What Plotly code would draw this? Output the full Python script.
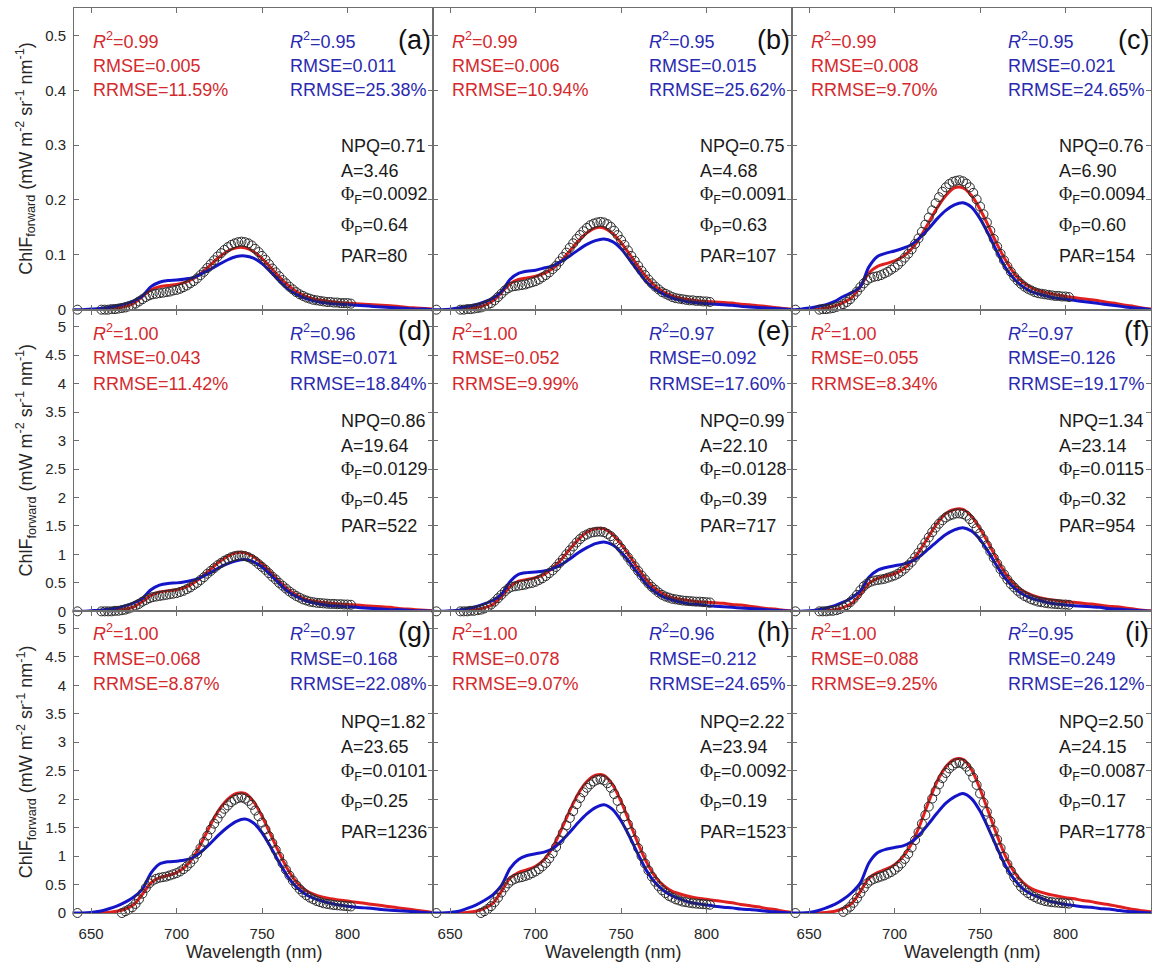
import plotly.graph_objects as go
from plotly.subplots import make_subplots

# ---------------------------------------------------------------- data
panel_labels = ["(a)", "(b)", "(c)", "(d)", "(e)", "(f)", "(g)", "(h)", "(i)"]

# measured spectra (circles): one edge sample at 642 nm, then 656-802 nm every 2 nm
meas_wl = [642] + list(range(656, 803, 2))
# fitted spectra: red model 650-850 nm, blue model 640-850 nm, every 5 nm
red_wl = list(range(650, 851, 5))
blue_wl = list(range(640, 851, 5))

meas_a = [0.0,
    0.000, 0.000, 0.000, 0.001, 0.001, 0.002, 0.003, 0.004, 0.006, 0.008, 0.011, 0.015, 0.019, 0.023, 0.026, 0.028, 0.029,
    0.030, 0.031, 0.032, 0.033, 0.035, 0.036, 0.038, 0.041, 0.044, 0.048, 0.052, 0.057, 0.063, 0.069, 0.076, 0.083, 0.090,
    0.097, 0.103, 0.109, 0.114, 0.118, 0.121, 0.123, 0.124, 0.123, 0.121, 0.117, 0.111, 0.105, 0.098, 0.091, 0.083, 0.075,
    0.068, 0.061, 0.054, 0.048, 0.042, 0.037, 0.032, 0.028, 0.025, 0.022, 0.020, 0.018, 0.017, 0.016, 0.015, 0.014, 0.014,
    0.013, 0.013, 0.012, 0.012, 0.012, 0.011]
meas_b = [0.0,
    0.000, 0.000, 0.001, 0.001, 0.002, 0.003, 0.004, 0.006, 0.009, 0.012, 0.017, 0.023, 0.029, 0.035, 0.039, 0.042, 0.043,
    0.044, 0.045, 0.046, 0.048, 0.050, 0.052, 0.055, 0.059, 0.063, 0.068, 0.074, 0.080, 0.088, 0.096, 0.104, 0.113, 0.121,
    0.129, 0.136, 0.143, 0.149, 0.154, 0.157, 0.159, 0.160, 0.159, 0.156, 0.151, 0.144, 0.136, 0.127, 0.118, 0.108, 0.098,
    0.089, 0.080, 0.071, 0.063, 0.055, 0.048, 0.042, 0.037, 0.032, 0.029, 0.026, 0.023, 0.021, 0.020, 0.019, 0.018, 0.017,
    0.017, 0.016, 0.016, 0.015, 0.015, 0.014]
meas_c = [0.0,
    0.000, 0.001, 0.001, 0.002, 0.003, 0.005, 0.007, 0.010, 0.014, 0.019, 0.026, 0.033, 0.041, 0.048, 0.054, 0.058, 0.060,
    0.061, 0.063, 0.066, 0.069, 0.073, 0.077, 0.082, 0.088, 0.095, 0.102, 0.110, 0.120, 0.130, 0.142, 0.155, 0.168, 0.181,
    0.194, 0.205, 0.215, 0.223, 0.229, 0.233, 0.235, 0.236, 0.234, 0.230, 0.223, 0.213, 0.201, 0.188, 0.174, 0.159, 0.144,
    0.129, 0.115, 0.102, 0.090, 0.079, 0.069, 0.060, 0.053, 0.047, 0.042, 0.038, 0.035, 0.032, 0.030, 0.029, 0.028, 0.027,
    0.026, 0.025, 0.025, 0.024, 0.024, 0.023]
meas_d = [0.0,
    0.00, 0.00, 0.00, 0.00, 0.01, 0.01, 0.02, 0.03, 0.05, 0.07, 0.10, 0.13, 0.17, 0.20, 0.23, 0.25, 0.26,
    0.27, 0.28, 0.29, 0.30, 0.31, 0.32, 0.34, 0.36, 0.39, 0.42, 0.46, 0.50, 0.55, 0.60, 0.66, 0.71, 0.76,
    0.81, 0.85, 0.89, 0.92, 0.95, 0.97, 0.98, 0.98, 0.97, 0.95, 0.92, 0.88, 0.83, 0.78, 0.73, 0.67, 0.61,
    0.56, 0.50, 0.45, 0.40, 0.35, 0.31, 0.27, 0.24, 0.21, 0.19, 0.17, 0.16, 0.15, 0.145, 0.14, 0.135, 0.13,
    0.13, 0.125, 0.125, 0.12, 0.12, 0.115]
meas_e = [0.0,
    0.00, 0.00, 0.00, 0.01, 0.01, 0.02, 0.03, 0.05, 0.08, 0.12, 0.17, 0.23, 0.29, 0.35, 0.40, 0.43, 0.44,
    0.45, 0.46, 0.47, 0.49, 0.50, 0.52, 0.55, 0.58, 0.62, 0.67, 0.72, 0.78, 0.85, 0.92, 1.00, 1.07, 1.14,
    1.21, 1.27, 1.32, 1.35, 1.38, 1.39, 1.40, 1.40, 1.39, 1.36, 1.32, 1.26, 1.19, 1.11, 1.03, 0.95, 0.87,
    0.79, 0.71, 0.63, 0.56, 0.49, 0.43, 0.38, 0.33, 0.29, 0.26, 0.24, 0.22, 0.21, 0.20, 0.19, 0.185, 0.18,
    0.175, 0.17, 0.17, 0.165, 0.16, 0.155]
meas_f = [0.0,
    0.00, 0.00, 0.00, 0.01, 0.01, 0.02, 0.04, 0.07, 0.11, 0.16, 0.22, 0.29, 0.37, 0.44, 0.49, 0.52, 0.54,
    0.55, 0.56, 0.57, 0.59, 0.61, 0.63, 0.66, 0.70, 0.75, 0.81, 0.87, 0.95, 1.03, 1.12, 1.21, 1.30, 1.39,
    1.47, 1.54, 1.60, 1.65, 1.68, 1.70, 1.72, 1.72, 1.71, 1.68, 1.62, 1.55, 1.46, 1.37, 1.27, 1.16, 1.05,
    0.94, 0.84, 0.74, 0.65, 0.56, 0.48, 0.42, 0.36, 0.31, 0.27, 0.24, 0.21, 0.19, 0.17, 0.16, 0.15, 0.14,
    0.135, 0.13, 0.125, 0.12, 0.12, 0.115]
meas_g = [0.0,
    -0.02, -0.03, -0.03, -0.03, -0.02, -0.01, 0.00, 0.03, 0.06, 0.10, 0.16, 0.24, 0.34, 0.44, 0.52, 0.57, 0.60,
    0.62, 0.63, 0.64, 0.66, 0.68, 0.70, 0.73, 0.77, 0.82, 0.88, 0.95, 1.04, 1.14, 1.25, 1.36, 1.47, 1.57,
    1.66, 1.75, 1.83, 1.89, 1.95, 1.99, 2.02, 2.03, 2.01, 1.97, 1.90, 1.80, 1.70, 1.59, 1.47, 1.35, 1.23,
    1.11, 0.99, 0.87, 0.76, 0.66, 0.57, 0.49, 0.42, 0.36, 0.31, 0.27, 0.24, 0.21, 0.19, 0.17, 0.16, 0.15,
    0.14, 0.135, 0.13, 0.125, 0.12, 0.115]
meas_h = [0.0,
    -0.02, -0.03, -0.04, -0.04, -0.03, -0.02, 0.00, 0.03, 0.07, 0.12, 0.19, 0.27, 0.36, 0.45, 0.52, 0.57, 0.60,
    0.62, 0.63, 0.65, 0.67, 0.70, 0.73, 0.77, 0.82, 0.88, 0.96, 1.05, 1.16, 1.28, 1.41, 1.54, 1.67, 1.79,
    1.91, 2.02, 2.12, 2.20, 2.26, 2.31, 2.34, 2.35, 2.33, 2.28, 2.20, 2.09, 1.97, 1.84, 1.70, 1.56, 1.42,
    1.28, 1.14, 1.00, 0.87, 0.75, 0.64, 0.55, 0.47, 0.40, 0.35, 0.30, 0.27, 0.24, 0.22, 0.20, 0.19, 0.18,
    0.17, 0.165, 0.16, 0.155, 0.15, 0.145]
meas_i = [0.0,
    -0.03, -0.04, -0.05, -0.05, -0.04, -0.03, -0.01, 0.02, 0.06, 0.11, 0.18, 0.26, 0.35, 0.44, 0.52, 0.57, 0.60,
    0.62, 0.64, 0.66, 0.69, 0.72, 0.76, 0.81, 0.87, 0.95, 1.04, 1.15, 1.28, 1.42, 1.57, 1.72, 1.87, 2.01,
    2.14, 2.26, 2.37, 2.46, 2.54, 2.59, 2.63, 2.64, 2.62, 2.57, 2.49, 2.38, 2.25, 2.10, 1.94, 1.78, 1.61,
    1.45, 1.29, 1.14, 0.99, 0.86, 0.74, 0.63, 0.54, 0.46, 0.40, 0.35, 0.31, 0.28, 0.25, 0.23, 0.21, 0.20,
    0.19, 0.185, 0.18, 0.175, 0.17, 0.165]

red_a = [0.000, 0.000, 0.001, 0.003, 0.006, 0.012, 0.024, 0.036, 0.042, 0.044,
         0.046, 0.050, 0.057, 0.068, 0.082, 0.096, 0.107, 0.113, 0.113, 0.106,
         0.093, 0.077, 0.060, 0.045, 0.033, 0.025, 0.020, 0.017, 0.015, 0.013,
         0.012, 0.011, 0.010, 0.009, 0.008, 0.007, 0.006, 0.004, 0.003, 0.002, 0.001]
red_b = [0.000, 0.000, 0.001, 0.004, 0.008, 0.016, 0.031, 0.047, 0.055, 0.058,
         0.061, 0.066, 0.075, 0.089, 0.107, 0.125, 0.140, 0.149, 0.149, 0.139,
         0.122, 0.101, 0.079, 0.059, 0.043, 0.032, 0.025, 0.021, 0.018, 0.016,
         0.015, 0.014, 0.013, 0.012, 0.010, 0.009, 0.007, 0.006, 0.004, 0.002, 0.001]
red_c = [0.000, 0.001, 0.003, 0.007, 0.013, 0.022, 0.042, 0.067, 0.079, 0.084,
         0.089, 0.097, 0.111, 0.132, 0.159, 0.186, 0.208, 0.222, 0.222, 0.208,
         0.183, 0.152, 0.119, 0.090, 0.066, 0.050, 0.040, 0.034, 0.030, 0.027,
         0.024, 0.022, 0.020, 0.018, 0.016, 0.013, 0.011, 0.008, 0.006, 0.003, 0.001]
red_d = [0.00, 0.00, 0.01, 0.02, 0.04, 0.08, 0.17, 0.28, 0.34, 0.36,
         0.38, 0.42, 0.50, 0.61, 0.74, 0.87, 0.97, 1.03, 1.03, 0.96,
         0.84, 0.69, 0.53, 0.39, 0.29, 0.22, 0.18, 0.16, 0.14, 0.13,
         0.12, 0.11, 0.10, 0.09, 0.08, 0.07, 0.05, 0.04, 0.03, 0.02, 0.01]
red_e = [0.00, 0.00, 0.01, 0.03, 0.06, 0.12, 0.26, 0.43, 0.53, 0.56,
         0.59, 0.65, 0.76, 0.91, 1.09, 1.26, 1.39, 1.45, 1.45, 1.35,
         1.18, 0.97, 0.75, 0.55, 0.40, 0.30, 0.24, 0.21, 0.19, 0.17,
         0.16, 0.15, 0.14, 0.12, 0.11, 0.09, 0.07, 0.05, 0.04, 0.02, 0.01]
red_f = [0.00, 0.00, 0.01, 0.03, 0.07, 0.14, 0.30, 0.49, 0.58, 0.62,
         0.66, 0.74, 0.88, 1.08, 1.32, 1.55, 1.72, 1.79, 1.79, 1.67,
         1.45, 1.19, 0.91, 0.66, 0.48, 0.36, 0.29, 0.24, 0.21, 0.19,
         0.17, 0.16, 0.14, 0.13, 0.11, 0.09, 0.08, 0.06, 0.04, 0.02, 0.01]
red_g = [0.00, 0.00, 0.01, 0.03, 0.07, 0.15, 0.33, 0.53, 0.62, 0.66,
         0.71, 0.81, 0.99, 1.26, 1.56, 1.82, 2.00, 2.10, 2.10, 1.96,
         1.70, 1.38, 1.06, 0.77, 0.55, 0.41, 0.33, 0.28, 0.25, 0.23,
         0.21, 0.19, 0.17, 0.15, 0.13, 0.11, 0.09, 0.07, 0.05, 0.03, 0.01]
red_h = [0.00, 0.00, 0.01, 0.03, 0.08, 0.17, 0.38, 0.61, 0.71, 0.76,
         0.82, 0.94, 1.15, 1.46, 1.80, 2.10, 2.31, 2.42, 2.42, 2.26,
         1.96, 1.59, 1.22, 0.89, 0.64, 0.48, 0.38, 0.33, 0.29, 0.26,
         0.24, 0.22, 0.20, 0.18, 0.15, 0.13, 0.11, 0.08, 0.06, 0.03, 0.01]
red_i = [0.00, 0.00, 0.01, 0.03, 0.08, 0.17, 0.38, 0.61, 0.71, 0.77,
         0.85, 0.99, 1.22, 1.56, 1.96, 2.32, 2.57, 2.70, 2.70, 2.52,
         2.18, 1.77, 1.36, 0.99, 0.72, 0.54, 0.43, 0.37, 0.33, 0.30,
         0.27, 0.25, 0.22, 0.20, 0.17, 0.15, 0.12, 0.09, 0.06, 0.04, 0.02]

blue_a = [0.000, 0.000, 0.001, 0.002, 0.004, 0.007, 0.011, 0.016, 0.025, 0.042,
          0.050, 0.053, 0.054, 0.056, 0.059, 0.066, 0.074, 0.083, 0.091, 0.097,
          0.098, 0.094, 0.084, 0.069, 0.053, 0.038, 0.028, 0.021, 0.016, 0.013,
          0.011, 0.010, 0.009, 0.008, 0.007, 0.006, 0.005, 0.004, 0.003, 0.002,
          0.001, 0.001, 0.000]
blue_b = [0.000, 0.000, 0.001, 0.003, 0.006, 0.009, 0.014, 0.021, 0.033, 0.055,
          0.066, 0.070, 0.072, 0.076, 0.080, 0.088, 0.098, 0.109, 0.119, 0.126,
          0.129, 0.124, 0.111, 0.091, 0.070, 0.050, 0.037, 0.028, 0.021, 0.017,
          0.014, 0.012, 0.011, 0.010, 0.009, 0.008, 0.006, 0.005, 0.004, 0.003,
          0.002, 0.001, 0.000]
blue_c = [0.000, 0.001, 0.003, 0.006, 0.009, 0.015, 0.024, 0.031, 0.042, 0.078,
          0.097, 0.103, 0.107, 0.112, 0.119, 0.132, 0.148, 0.166, 0.181, 0.191,
          0.195, 0.187, 0.166, 0.137, 0.105, 0.076, 0.056, 0.042, 0.033, 0.028,
          0.024, 0.021, 0.019, 0.017, 0.015, 0.013, 0.011, 0.009, 0.007, 0.005,
          0.003, 0.002, 0.000]
blue_d = [0.00, 0.00, 0.01, 0.02, 0.04, 0.06, 0.10, 0.15, 0.23, 0.38,
          0.46, 0.49, 0.50, 0.52, 0.55, 0.61, 0.68, 0.77, 0.84, 0.89,
          0.91, 0.87, 0.78, 0.64, 0.49, 0.35, 0.26, 0.19, 0.15, 0.12,
          0.10, 0.09, 0.08, 0.07, 0.06, 0.05, 0.04, 0.03, 0.03, 0.02,
          0.01, 0.01, 0.00]
blue_e = [0.00, 0.00, 0.01, 0.02, 0.05, 0.08, 0.13, 0.19, 0.30, 0.52,
          0.65, 0.68, 0.69, 0.71, 0.75, 0.82, 0.92, 1.03, 1.12, 1.19,
          1.22, 1.17, 1.04, 0.86, 0.66, 0.47, 0.34, 0.25, 0.20, 0.16,
          0.13, 0.12, 0.10, 0.09, 0.08, 0.07, 0.06, 0.05, 0.04, 0.03,
          0.02, 0.01, 0.00]
blue_f = [0.00, 0.00, 0.01, 0.03, 0.06, 0.10, 0.16, 0.24, 0.36, 0.60,
          0.72, 0.77, 0.80, 0.83, 0.88, 0.97, 1.10, 1.23, 1.35, 1.43,
          1.47, 1.41, 1.26, 1.04, 0.79, 0.57, 0.41, 0.30, 0.23, 0.19,
          0.15, 0.13, 0.11, 0.10, 0.09, 0.08, 0.07, 0.05, 0.04, 0.03,
          0.02, 0.01, 0.00]
blue_g = [0.00, 0.00, 0.01, 0.03, 0.07, 0.12, 0.19, 0.28, 0.42, 0.70,
          0.86, 0.90, 0.91, 0.93, 0.98, 1.09, 1.23, 1.38, 1.51, 1.61,
          1.65, 1.58, 1.41, 1.16, 0.89, 0.64, 0.46, 0.34, 0.26, 0.21,
          0.17, 0.14, 0.12, 0.10, 0.09, 0.08, 0.06, 0.05, 0.04, 0.03,
          0.02, 0.01, 0.00]
blue_h = [0.00, 0.00, 0.01, 0.03, 0.08, 0.14, 0.22, 0.32, 0.48, 0.78,
          0.94, 1.01, 1.04, 1.07, 1.13, 1.26, 1.42, 1.59, 1.74, 1.85,
          1.90, 1.82, 1.62, 1.34, 1.03, 0.74, 0.53, 0.39, 0.30, 0.24,
          0.19, 0.16, 0.14, 0.12, 0.10, 0.09, 0.07, 0.06, 0.05, 0.03,
          0.02, 0.01, 0.00]
blue_i = [0.00, 0.00, 0.01, 0.04, 0.09, 0.15, 0.24, 0.36, 0.53, 0.88,
          1.06, 1.12, 1.15, 1.18, 1.25, 1.39, 1.57, 1.76, 1.93, 2.04,
          2.10, 2.01, 1.79, 1.48, 1.14, 0.82, 0.59, 0.43, 0.33, 0.27,
          0.21, 0.18, 0.15, 0.13, 0.11, 0.10, 0.08, 0.07, 0.05, 0.03,
          0.02, 0.01, 0.00]

measured = [meas_a, meas_b, meas_c, meas_d, meas_e, meas_f, meas_g, meas_h, meas_i]
red_fit = [red_a, red_b, red_c, red_d, red_e, red_f, red_g, red_h, red_i]
blue_fit = [blue_a, blue_b, blue_c, blue_d, blue_e, blue_f, blue_g, blue_h, blue_i]

# goodness-of-fit statistics
red_r2 = ["0.99", "0.99", "0.99", "1.00", "1.00", "1.00", "1.00", "1.00", "1.00"]
red_rmse = ["0.005", "0.006", "0.008", "0.043", "0.052", "0.055", "0.068", "0.078", "0.088"]
red_rrmse = ["11.59", "10.94", "9.70", "11.42", "9.99", "8.34", "8.87", "9.07", "9.25"]
blue_r2 = ["0.95", "0.95", "0.95", "0.96", "0.97", "0.97", "0.97", "0.96", "0.95"]
blue_rmse = ["0.011", "0.015", "0.021", "0.071", "0.092", "0.126", "0.168", "0.212", "0.249"]
blue_rrmse = ["25.38", "25.62", "24.65", "18.84", "17.60", "19.17", "22.08", "24.65", "26.12"]

# physiological parameters
npq = ["0.71", "0.75", "0.76", "0.86", "0.99", "1.34", "1.82", "2.22", "2.50"]
a_val = ["3.46", "4.68", "6.90", "19.64", "22.10", "23.14", "23.65", "23.94", "24.15"]
phi_f = ["0.0092", "0.0091", "0.0094", "0.0129", "0.0128", "0.0115", "0.0101", "0.0092", "0.0087"]
phi_p = ["0.64", "0.63", "0.60", "0.45", "0.39", "0.32", "0.25", "0.19", "0.17"]
par = ["80", "107", "154", "522", "717", "954", "1236", "1523", "1778"]

x_ticks = [650, 700, 750, 800]
y_ticks_top = [0, 0.1, 0.2, 0.3, 0.4, 0.5]
y_ticks_low = [0, 0.5, 1, 1.5, 2, 2.5, 3, 3.5, 4, 4.5, 5]

# ---------------------------------------------------------------- styling
W, H = 1159, 965
ML, MR, MT, MB = 74, 8, 8, 52
FONT = "Liberation Sans, Arial, sans-serif"
RED_LINE, BLUE_LINE = "#e0201e", "#1414c8"
RED_TEXT, BLUE_TEXT = "#d42a2e", "#2a2ab0"
FRAME = "#6e6e6e"
X_RANGE = [640, 850]
Y_RANGE = {1: [0, 0.55], 2: [0, 5.3], 3: [0, 5.3]}
# text rows (data units) for each subplot row
STAT_Y = {1: [0.49, 0.445, 0.40], 2: [4.9, 4.45, 4.0], 3: [4.92, 4.47, 4.02]}
PARAM_Y = {1: [0.298, 0.252, 0.213, 0.158, 0.097],
           2: [3.35, 2.91, 2.53, 2.00, 1.50],
           3: [3.36, 2.92, 2.52, 2.00, 1.42]}
LABEL_Y = {1: 0.492, 2: 4.93, 3: 4.93}

fig = make_subplots(rows=3, cols=3, horizontal_spacing=0, vertical_spacing=0)

for k in range(9):
    r, c = k // 3 + 1, k % 3 + 1
    fig.add_trace(go.Scatter(x=red_wl, y=red_fit[k], mode="lines",
                             line=dict(color=RED_LINE, width=3, shape="spline", smoothing=0.8),
                             showlegend=False, hoverinfo="skip"), row=r, col=c)
    fig.add_trace(go.Scatter(x=blue_wl, y=blue_fit[k], mode="lines",
                             line=dict(color=BLUE_LINE, width=3, shape="spline", smoothing=0.8),
                             showlegend=False, hoverinfo="skip"), row=r, col=c)
    fig.add_trace(go.Scatter(x=meas_wl, y=measured[k], mode="markers",
                             marker=dict(symbol="circle-open", size=9, color="#2a2a2a",
                                         line=dict(width=1, color="#2a2a2a")),
                             cliponaxis=False, showlegend=False, hoverinfo="skip"), row=r, col=c)

    xref = "x" if k == 0 else f"x{k + 1}"
    yref = "y" if k == 0 else f"y{k + 1}"
    sy = STAT_Y[r]
    py = PARAM_Y[r]

    def note(x, y, text, color="#1a1a1a", size=18, anchor="left", yshift=0):
        fig.add_annotation(x=x, y=y, xref=xref, yref=yref, text=text, showarrow=False,
                           xanchor=anchor, yanchor="middle", yshift=yshift,
                           font=dict(family=FONT, size=size, color=color))

    note(650, sy[0], f"<i>R</i><sup>2</sup>={red_r2[k]}", RED_TEXT)
    note(650, sy[1], f"RMSE={red_rmse[k]}", RED_TEXT)
    note(650, sy[2], f"RRMSE={red_rrmse[k]}%", RED_TEXT)
    note(765, sy[0], f"<i>R</i><sup>2</sup>={blue_r2[k]}", BLUE_TEXT)
    note(765, sy[1], f"RMSE={blue_rmse[k]}", BLUE_TEXT)
    note(765, sy[2], f"RRMSE={blue_rrmse[k]}%", BLUE_TEXT)

    phi = "<span style='font-family:Liberation Serif, serif'>Φ</span>"
    note(795, py[0], f"NPQ={npq[k]}")
    note(795, py[1], f"A={a_val[k]}")
    note(795, py[2], f"{phi}<sub>F</sub>={phi_f[k]}", yshift=-3)
    note(795, py[3], f"{phi}<sub>P</sub>={phi_p[k]}", yshift=-3)
    note(795, py[4], f"PAR={par[k]}")
    note(850, LABEL_Y[r], panel_labels[k], "#111111", size=27, anchor="right")

axis_common = dict(showline=True, linecolor=FRAME, linewidth=1, mirror="allticks",
                   ticks="inside", ticklen=5, tickcolor=FRAME, tickwidth=1,
                   showgrid=False, zeroline=False,
                   tickfont=dict(family=FONT, size=15, color="#262626"))

for k in range(9):
    r, c = k // 3 + 1, k % 3 + 1
    fig.update_xaxes(range=X_RANGE, tickvals=x_ticks, showticklabels=(r == 3),
                     ticklabelstandoff=7, row=r, col=c, **axis_common)
    fig.update_yaxes(range=Y_RANGE[r], tickvals=(y_ticks_top if r == 1 else y_ticks_low),
                     showticklabels=(c == 1), ticklabelstandoff=4, row=r, col=c, **axis_common)

# shared axis titles
plot_w, plot_h = W - ML - MR, H - MT - MB
ytitle = "ChlF<sub>forward</sub> (mW m<sup>-2</sup> sr<sup>-1</sup> nm<sup>-1</sup>)"
for r in range(3):
    yc = 1 - (r + 0.5) / 3
    fig.add_annotation(x=(26 - ML) / plot_w, y=yc, xref="paper", yref="paper", text=ytitle,
                       textangle=-90, showarrow=False, xanchor="center", yanchor="middle",
                       font=dict(family=FONT, size=18, color="#262626"))
for c in range(3):
    fig.add_annotation(x=(c + 0.5) / 3, y=-(952 - (H - MB)) / plot_h, xref="paper", yref="paper",
                       text="Wavelength (nm)", showarrow=False, xanchor="center", yanchor="middle",
                       font=dict(family=FONT, size=18, color="#262626"))

fig.update_layout(width=W, height=H, margin=dict(l=ML, r=MR, t=MT, b=MB),
                  paper_bgcolor="white", plot_bgcolor="white", showlegend=False)

fig.write_html("out.html")
